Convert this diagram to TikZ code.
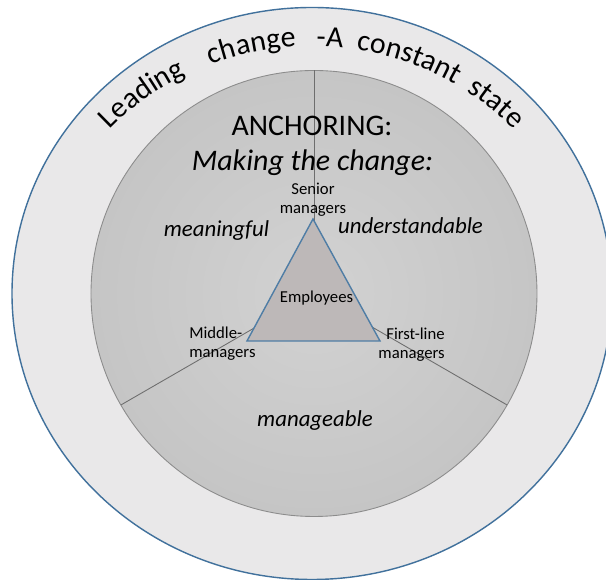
\documentclass[tikz,border=0pt]{standalone}
\usepackage{fontspec}
\setmainfont{Carlito}
\usepackage{tikz}
\usetikzlibrary{positioning, decorations.text}
\definecolor{ringgray}{RGB}{233,232,233}
\definecolor{ringblue}{RGB}{65,113,156}
\definecolor{discedge}{RGB}{140,140,140}
\definecolor{discin}{RGB}{210,210,210}
\definecolor{discout}{RGB}{197,197,197}
\definecolor{spokegray}{RGB}{110,110,110}
\definecolor{trifill}{RGB}{189,184,184}
\definecolor{triblue}{RGB}{79,125,165}
\tikzstyle{spoke} = [draw=spokegray, line width=0.5pt]
\tikzstyle{headline} = [inner sep=0pt, anchor=base, font=\fontsize{17}{20}\selectfont]
\tikzstyle{sectorlabel} = [inner sep=0pt, anchor=base, font=\itshape\fontsize{13}{15}\selectfont]
\tikzstyle{rolelabel} = [inner sep=0pt, font=\fontsize{9.5}{10.8}\selectfont]

\begin{document}
\begin{tikzpicture}[x=0.02cm, y=0.02cm]
\clip (-312,-286.5) rectangle (294,293.5);
\fill[white] (-312,-286.5) rectangle (294,293.5);
\draw[fill=ringgray, draw=ringblue, line width=0.8pt] (0,0) ellipse [x radius=300, y radius=286];
\coordinate (hub) at (2,0);
\shade[inner color=discin, outer color=discout] (hub) circle [radius=223];
\draw[discedge, line width=0.5pt] (hub) circle [radius=223];
\foreach \a in {90,210,330}
  \draw[spoke] (hub) -- ++(\a:223);

\path[decorate, decoration={text along path, text align=center,
  text={|\fontsize{17}{20}\selectfont|Leading{\ }{\ }{\ }{\ }change{\ }{\ }{\ }-A{\ }{\ }constant{\ }{\ }state}}]
  (150:270 and 247) arc [start angle=150, end angle=30, x radius=270, y radius=247];

\coordinate (top) at (1,74.5);
\coordinate (left) at (-65,-47.5);
\coordinate (right) at (68,-47.5);
\draw[fill=trifill, draw=triblue, line width=0.8pt] (top) -- (left) -- (right) -- cycle;

\node (anchoring) [headline] at (0,157.5) {ANCHORING:};
\node (making) [headline, font=\itshape\fontsize{17}{20}\selectfont] at (0.5,122.5) {Making the change:};
\node (senior) [rolelabel, align=center] at (1,94) {Senior\\managers};
\node (employees) [rolelabel, anchor=base] at (4.5,-9.5) {Employees};
\node (middle) [rolelabel, align=left, anchor=west] at (-123,-50.4) {Middle-\\managers};
\node (firstline) [rolelabel, align=right, anchor=east] at (133,-51.4) {First-line\\managers};
\node (meaningful) [sectorlabel] at (-95.5,56.5) {meaningful};
\node (understandable) [sectorlabel] at (98.5,59.5) {understandable};
\node (manageable) [sectorlabel] at (3,-133.5) {manageable};
\end{tikzpicture}
\end{document}
